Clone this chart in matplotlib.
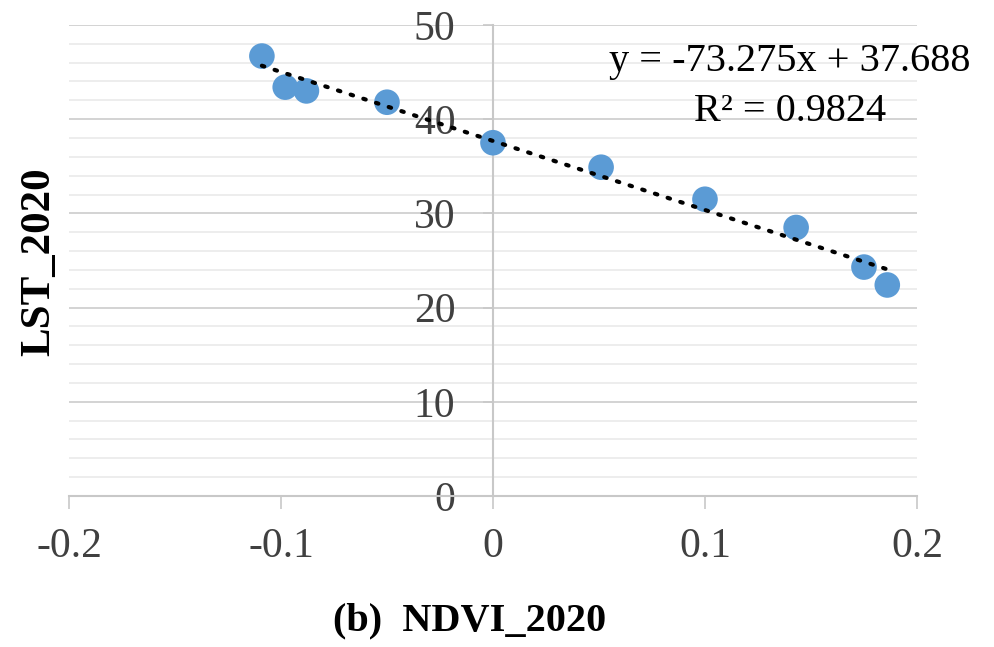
import numpy as np
import matplotlib.pyplot as plt
from matplotlib.ticker import MultipleLocator

plt.rcParams["font.family"] = ["Liberation Serif", "DejaVu Serif"]

ndvi = [-0.109, -0.098, -0.088, -0.050, 0.000, 0.051, 0.100, 0.143, 0.175, 0.186]
lst = [46.7, 43.4, 43.0, 41.8, 37.5, 34.9, 31.5, 28.5, 24.3, 22.4]

slope = -73.275
intercept = 37.688
r2 = 0.9824

x_ticks = [-0.2, -0.1, 0, 0.1, 0.2]
x_labels = ["-0.2", "-0.1", "0", "0.1", "0.2"]
y_ticks = [0, 10, 20, 30, 40, 50]

fig = plt.figure(figsize=(9.94, 6.47), dpi=100)
ax = fig.add_axes([0.0694, 0.2334, 0.8531, 0.728])

ax.set_xlim(-0.2, 0.2)
ax.set_ylim(0, 50)

ax.yaxis.set_minor_locator(MultipleLocator(2))
ax.grid(axis="y", which="major", color="#d0d0d0", linewidth=1.3)
ax.grid(axis="y", which="minor", color="#e8e8e8", linewidth=1.1)
ax.set_axisbelow(True)

for s in ["top", "right"]:
    ax.spines[s].set_visible(False)
ax.spines["left"].set_position(("data", 0))
ax.spines["left"].set_color("#c8c8c8")
ax.spines["bottom"].set_color("#c8c8c8")
ax.spines["left"].set_linewidth(1.5)
ax.spines["bottom"].set_linewidth(1.5)

ax.set_xticks(x_ticks)
ax.set_xticklabels(x_labels)
ax.set_yticks(y_ticks)
ax.tick_params(axis="x", which="major", length=9, width=1.2, color="#c8c8c8",
               pad=14, labelsize=30, labelcolor="#404040")
ax.tick_params(axis="y", which="major", length=7, width=1.2, color="#c8c8c8",
               pad=20, labelsize=30, labelcolor="#404040")
ax.tick_params(axis="y", which="minor", length=0)

# trendline over the range of the data
xs = np.array([min(ndvi), max(ndvi)])
ax.plot(xs, slope * xs + intercept, color="black", linewidth=3,
        linestyle=(0, (0.6, 2.6)), dash_capstyle="round", zorder=4)
ax.scatter(ndvi, lst, s=340, color="#5b9bd5", edgecolors="none", zorder=3)

fig.text(0.795, 0.905, "y = -73.275x + 37.688", ha="center", va="center",
         fontsize=29, color="black")
fig.text(0.795, 0.828, "R² = %.4f" % r2, ha="center", va="center",
         fontsize=29, color="black")

fig.text(0.039, 0.595, "LST_2020", rotation=90, ha="center", va="center",
         fontsize=31, fontweight="bold")
fig.text(0.472, 0.04, "(b)  NDVI_2020", ha="center", va="center",
         fontsize=29, fontweight="bold")

fig.savefig("out.png", dpi=100)
